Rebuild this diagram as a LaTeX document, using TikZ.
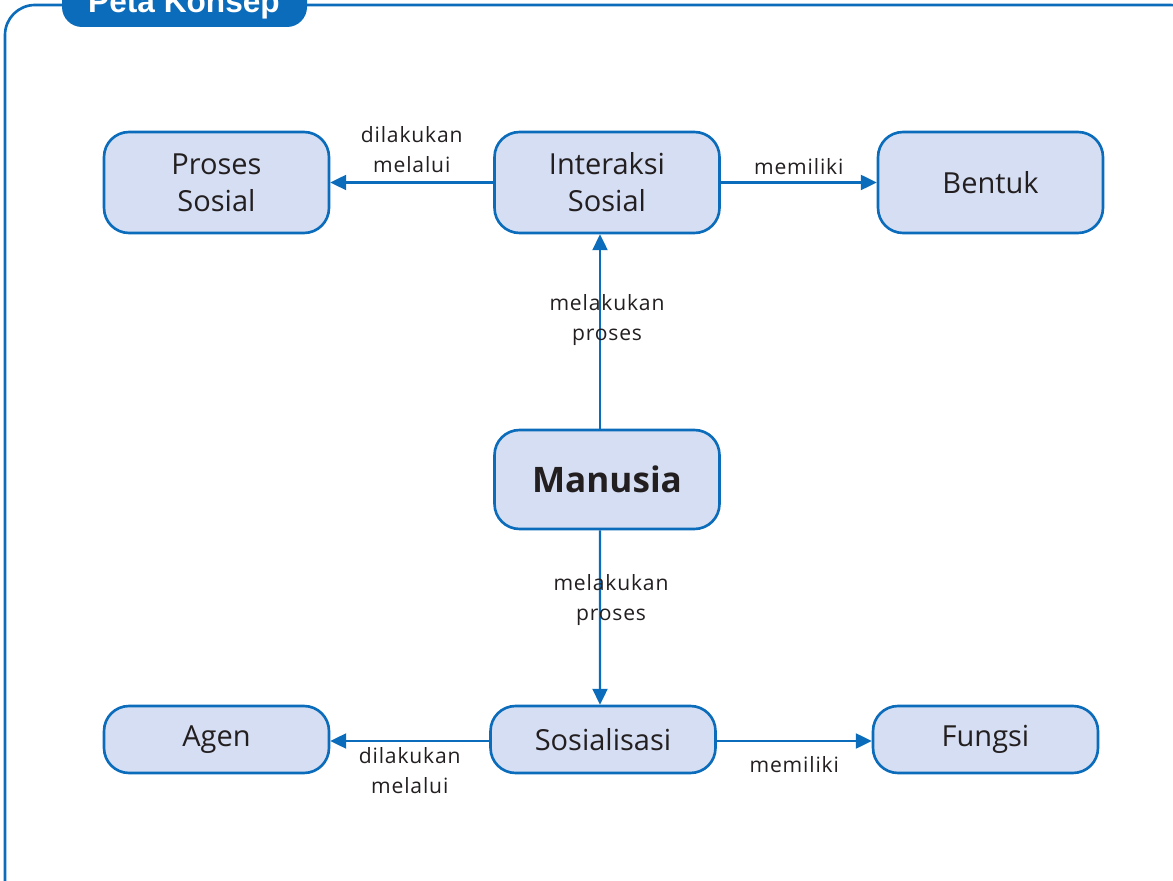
\documentclass[tikz,border=0pt]{standalone}
\usepackage{fontspec}
\setmainfont{Open Sans}
\newfontfamily\titlefont{Liberation Sans}
\newfontfamily\labelfont[LetterSpace=4]{Open Sans}
\usetikzlibrary{arrows.meta}
\definecolor{petablue}{RGB}{10,108,186}
\definecolor{petafill}{RGB}{213,222,242}
\definecolor{petatext}{RGB}{35,31,32}
\tikzset{
  konsep/.style={draw=petablue, fill=petafill, line width=1.5pt, rounded corners=0.5cm,
    minimum width=4.5cm, minimum height=2.02cm, align=center, text=petatext,
    font=\fontsize{16.5}{21}\selectfont},
  konsepkecil/.style={konsep, minimum height=1.34cm},
  hubung/.style={-{Triangle[length=9pt,width=8.5pt]}, draw=petablue, line width=1.3pt},
  ket/.style={align=center, text=petatext, font=\labelfont\fontsize{12}{17}\selectfont, inner sep=2pt}
}
\begin{document}
\begin{tikzpicture}[x=0.02cm,y=-0.02cm]
\useasboundingbox (0,0) rectangle (1173,881);
% bingkai
\draw[petablue, line width=1.5pt, rounded corners=0.6cm](5,5) rectangle (1200,910);
\fill[petablue, rounded corners=0.4cm](62,-30) rectangle (307,27);
\node[text=white, font=\titlefont\bfseries\fontsize{18}{20}\selectfont, anchor=base] (judul) at (184,13) {Peta Konsep};
% konsep
\node[konsep] (proses) at (216.5,182.5) {Proses\\Sosial};
\node[konsep] (inter) at (607,182.5) {Interaksi\\Sosial};
\node[konsep] (bentuk) at (990.5,182.5) {Bentuk};
\node[konsep, minimum height=1.98cm, font=\bfseries\fontsize{20}{24}\selectfont] (man) at (607,479.5) {Manusia};
\node[konsepkecil] (agen) at (216.5,739.5) {Agen};
\node[konsepkecil] (sos) at (603,739.5) {Sosialisasi};
\node[konsepkecil] (fungsi) at (985.5,739.5) {Fungsi};
% hubungan
\draw[hubung](inter)--(proses)node[ket, midway, above=3pt]{dilakukan\\melalui};
\draw[hubung](inter)--(bentuk)node[ket, midway, above=2pt]{memiliki};
\draw[hubung]([xshift=-0.14cm]man.north)--([xshift=-0.14cm]inter.south)node[ket, pos=0.56, xshift=0.14cm]{melakukan\\proses};
\draw[hubung]([xshift=-0.14cm]man.south)--([xshift=-0.06cm]sos.north)node[ket, pos=0.4, xshift=0.22cm]{melakukan\\proses};
\draw[hubung]([yshift=-0.03cm]sos.west)--([yshift=-0.03cm]agen.east)node[ket, midway, below=1pt]{dilakukan\\melalui};
\draw[hubung]([yshift=-0.03cm]sos.east)--([yshift=-0.03cm]fungsi.west)node[ket, midway, below=6pt]{memiliki};
\end{tikzpicture}
\end{document}
